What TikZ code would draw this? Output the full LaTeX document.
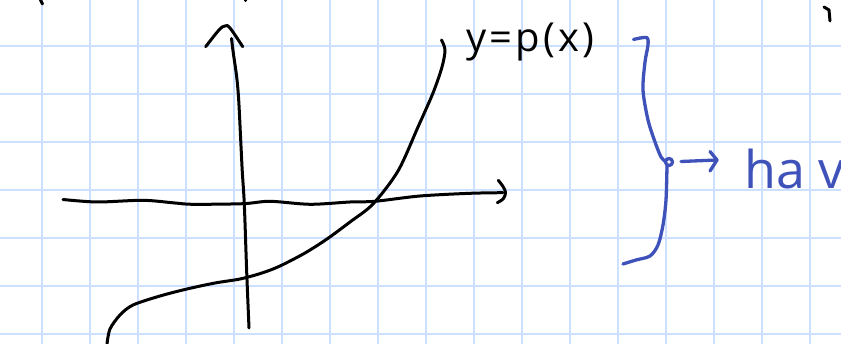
\documentclass[tikz,border=0pt]{standalone}
\usepackage{fontspec}
\setmainfont{Open Sans}
\usetikzlibrary{positioning}
\definecolor{gblue}{RGB}{204,224,255}
\definecolor{inkblue}{RGB}{62,82,186}
\tikzset{
    gridline/.style={gblue, line width=2pt},
    ink/.style={black, line width=3pt, line cap=round, line join=round},
    blueink/.style={inkblue, line width=3.3pt, line cap=round, line join=round},
}

\begin{document}
\begin{tikzpicture}[x=1pt, y=-1pt]
    \useasboundingbox (0,0) rectangle (841,344);
    \fill [white] (0,0) rectangle (841,344);
    \begin{scope}
    \clip (0,0) rectangle (841,344);

    % squared paper
    \foreach \gx in {42,90,...,810} \draw [gridline] (\gx,0) -- (\gx,344);
    \foreach \gy in {46,94,...,334} \draw [gridline] (0,\gy) -- (841,\gy);

    % bits of the line above
    \draw [ink] (40.5,0) -- (42.5,4);
    \fill (245.5,0.5) circle (1.6);
    \draw [ink] (824,7) -- (829,10) -- (830,21);

    % axes
    \coordinate (ybot) at (249,328);
    \coordinate (ytop) at (231.5,38.5);
    \coordinate (xbeg) at (63,199.5);
    \coordinate (xend) at (503,192.7);
    \draw [ink] plot [smooth, tension=0.5] coordinates {(ybot) (246.7,272) (244.3,204) (242.3,172) (240.7,140) (238.7,100) (236.7,77) (233.3,53) (ytop)};
    \draw [ink] plot [smooth, tension=0.6] coordinates {(205.7,46.7) (219,30) (225,26) (230,28) (242.7,46.7)};
    \draw [ink] plot [smooth, tension=0.5] coordinates {(xbeg) (97,202) (143,200.3) (175,203) (193,204.3) (243,203.7) (270,201.3) (310,204.3) (350,202) (375,201.3) (420,196) (470,193.3) (xend)};
    \draw [ink] plot [smooth, tension=0.6] coordinates {(498.3,180.3) (503.3,187) (505.5,192.7) (503.3,198.7) (497.3,202.7)};

    % the graph of p
    \draw [ink] plot [smooth, tension=0.5] coordinates {(107,344) (110,329) (120,315) (133,305) (160,296) (187,289) (215,283) (240,279) (262,273) (280,266) (305,253) (327,239) (350,222) (373,204) (398,171) (418,127) (433,93) (442,67) (445,50) (441.5,40)};
    \node [anchor=base west, inner sep=0pt, font=\fontsize{40}{48}\selectfont\addfontfeature{LetterSpace=8}] (curvelabel) at (466,52) {y=p(x)};

    % brace
    \coordinate (bracetip) at (669,162);
    \draw [blueink] plot [smooth, tension=0.5] coordinates {(633.5,39.5) (646.5,37.5) (648,45) (645,62) (643,90) (648,120) (655,142) (661,157) (665,161)};
    \draw [blueink] (bracetip) circle (3.5);
    \draw [blueink] plot [smooth, tension=0.5] coordinates {(667,166) (666,200) (663,225) (658,245) (650,256) (636,260) (623,264)};

    % arrow to the text
    \coordinate (arrowbeg) at (681,161.5);
    \coordinate (arrowend) at (717,160);
    \draw [blueink] (arrowbeg) -- (arrowend);
    \draw [blueink] (arrowend) ++(-7,-8.5) -- (arrowend) -- ++(-7,11);
    \node [inkblue, anchor=base west, inner sep=0pt, font=\fontsize{52}{60}\selectfont] (hav) at (744,189) {ha v};
    \end{scope}
\end{tikzpicture}
\end{document}
